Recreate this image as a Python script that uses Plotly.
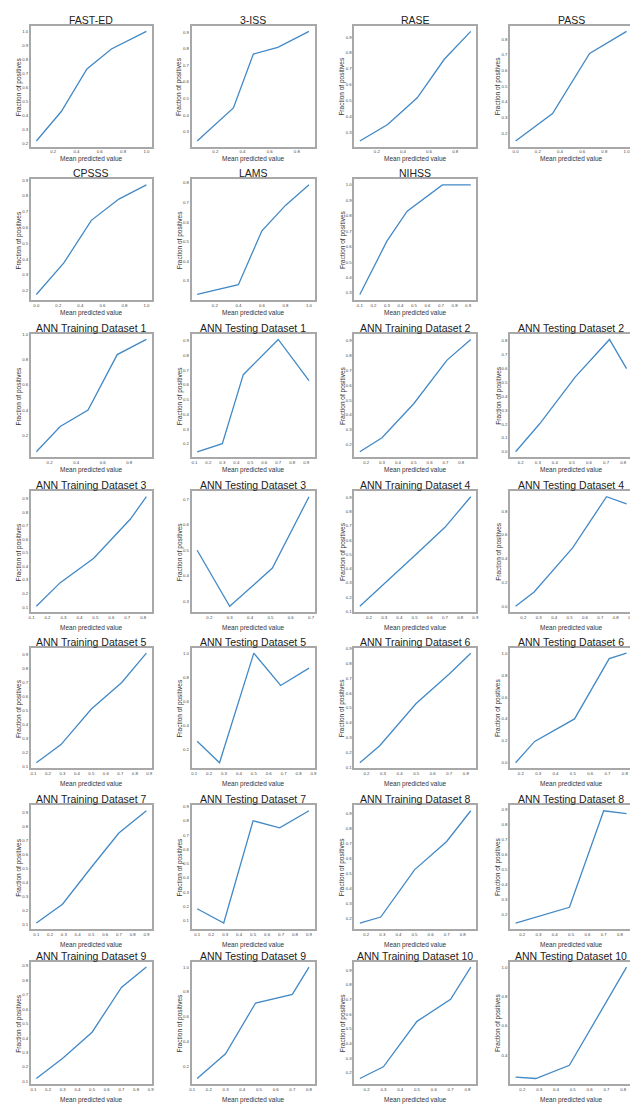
import plotly.graph_objects as go

# ---------------- data ----------------
TITLES = [
    "FAST-ED", "3-ISS", "RASE", "PASS",
    "CPSSS", "LAMS", "NIHSS",
    "ANN Training Dataset 1", "ANN Testing Dataset 1", "ANN Training Dataset 2", "ANN Testing Dataset 2",
    "ANN Training Dataset 3", "ANN Testing Dataset 3", "ANN Training Dataset 4", "ANN Testing Dataset 4",
    "ANN Training Dataset 5", "ANN Testing Dataset 5", "ANN Training Dataset 6", "ANN Testing Dataset 6",
    "ANN Training Dataset 7", "ANN Testing Dataset 7", "ANN Training Dataset 8", "ANN Testing Dataset 8",
    "ANN Training Dataset 9", "ANN Testing Dataset 9", "ANN Training Dataset 10", "ANN Testing Dataset 10",
]

fast_ed_x = [0.056, 0.27, 0.49, 0.70, 1.0]
fast_ed_y = [0.22, 0.43, 0.733, 0.875, 1.0]
iss3_x = [0.066, 0.333, 0.48, 0.66, 0.89]
iss3_y = [0.244, 0.443, 0.768, 0.808, 0.904]
rase_x = [0.07, 0.283, 0.51, 0.717, 0.92]
rase_y = [0.243, 0.347, 0.516, 0.76, 0.936]
pass_x = [0.0, 0.333, 0.667, 1.0]
pass_y = [0.151, 0.326, 0.71, 0.85]
cpsss_x = [0.0, 0.25, 0.5, 0.75, 1.0]
cpsss_y = [0.175, 0.375, 0.645, 0.78, 0.87]
lams_x = [0.05, 0.4, 0.6, 0.8, 1.0]
lams_y = [0.23, 0.28, 0.555, 0.685, 0.79]
nihss_x = [0.1, 0.3, 0.45, 0.71, 0.92]
nihss_y = [0.29, 0.635, 0.83, 1.0, 1.0]

tr1_x = [0.1, 0.28, 0.49, 0.71, 0.93]
tr1_y = [0.07, 0.27, 0.40, 0.84, 0.96]
te1_x = [0.12, 0.3, 0.45, 0.7, 0.92]
te1_y = [0.145, 0.20, 0.67, 0.91, 0.63]
tr2_x = [0.16, 0.3, 0.5, 0.71, 0.86]
tr2_y = [0.15, 0.245, 0.475, 0.77, 0.91]
te2_x = [0.17, 0.31, 0.52, 0.72, 0.82]
te2_y = [0.0, 0.2, 0.54, 0.81, 0.6]
tr3_x = [0.13, 0.28, 0.49, 0.72, 0.82]
tr3_y = [0.105, 0.28, 0.46, 0.75, 0.915]
te3_x = [0.14, 0.3, 0.51, 0.69]
te3_y = [0.5, 0.28, 0.43, 0.71]
tr4_x = [0.14, 0.29, 0.5, 0.7, 0.87]
tr4_y = [0.135, 0.28, 0.49, 0.69, 0.905]
te4_x = [0.15, 0.27, 0.52, 0.74, 0.87]
te4_y = [0.0, 0.12, 0.49, 0.92, 0.86]
tr5_x = [0.12, 0.29, 0.5, 0.71, 0.88]
tr5_y = [0.125, 0.255, 0.51, 0.70, 0.91]
te5_x = [0.12, 0.27, 0.5, 0.68, 0.87]
te5_y = [0.265, 0.085, 1.0, 0.73, 0.875]
tr6_x = [0.16, 0.28, 0.5, 0.7, 0.83]
tr6_y = [0.13, 0.245, 0.53, 0.73, 0.87]
te6_x = [0.17, 0.28, 0.51, 0.71, 0.81]
te6_y = [0.0, 0.195, 0.40, 0.95, 1.0]
tr7_x = [0.1, 0.29, 0.5, 0.7, 0.9]
tr7_y = [0.11, 0.245, 0.51, 0.755, 0.915]
te7_x = [0.1, 0.29, 0.5, 0.69, 0.9]
te7_y = [0.185, 0.085, 0.80, 0.75, 0.87]
tr8_x = [0.16, 0.29, 0.5, 0.7, 0.85]
tr8_y = [0.17, 0.21, 0.525, 0.715, 0.92]
te8_x = [0.16, 0.49, 0.7, 0.84]
te8_y = [0.145, 0.25, 0.895, 0.875]
tr9_x = [0.12, 0.3, 0.5, 0.7, 0.87]
tr9_y = [0.12, 0.26, 0.44, 0.75, 0.89]
te9_x = [0.13, 0.3, 0.48, 0.7, 0.8]
te9_y = [0.10, 0.30, 0.71, 0.78, 1.0]
tr10_x = [0.16, 0.3, 0.5, 0.7, 0.82]
tr10_y = [0.16, 0.24, 0.55, 0.70, 0.92]
te10_x = [0.16, 0.28, 0.48, 0.82]
te10_y = [0.25, 0.24, 0.33, 1.0]

SERIES = [
    (fast_ed_x, fast_ed_y), (iss3_x, iss3_y), (rase_x, rase_y), (pass_x, pass_y),
    (cpsss_x, cpsss_y), (lams_x, lams_y), (nihss_x, nihss_y),
    (tr1_x, tr1_y), (te1_x, te1_y), (tr2_x, tr2_y), (te2_x, te2_y),
    (tr3_x, tr3_y), (te3_x, te3_y), (tr4_x, tr4_y), (te4_x, te4_y),
    (tr5_x, tr5_y), (te5_x, te5_y), (tr6_x, tr6_y), (te6_x, te6_y),
    (tr7_x, tr7_y), (te7_x, te7_y), (tr8_x, tr8_y), (te8_x, te8_y),
    (tr9_x, tr9_y), (te9_x, te9_y), (tr10_x, tr10_y), (te10_x, te10_y),
]

X_DTICK = [0.2, 0.2, 0.2, 0.2, 0.2, 0.2, 0.1,
           0.2, 0.1, 0.1, 0.1, 0.1, 0.1, 0.1, 0.1, 0.1, 0.1, 0.1, 0.1,
           0.1, 0.1, 0.1, 0.1, 0.1, 0.1, 0.1, 0.1]
Y_DTICK = [0.1, 0.1, 0.1, 0.1, 0.1, 0.1, 0.1,
           0.2, 0.1, 0.1, 0.1, 0.1, 0.1, 0.1, 0.2, 0.1, 0.2, 0.1, 0.2,
           0.1, 0.1, 0.1, 0.1, 0.1, 0.2, 0.1, 0.2]

X_LABEL = "Mean predicted value"
Y_LABEL = "Fraction of positives"

# ---------------- layout ----------------
W, H = 638, 1105
COL_L = [21, 183, 347, 504]
COL_R = [143, 307, 470, 627]
ROW_T = [16, 170, 325, 483, 640, 798, 955]
ROW_B = [137, 291, 449, 604, 761, 922, 1078]
XLAB_OFF = [13, 13, 13, 16, 16, 16, 16]

slots = [(0, 0), (0, 1), (0, 2), (0, 3), (1, 0), (1, 1), (1, 2)] + \
        [(r, c) for r in range(2, 7) for c in range(4)]

FONT = "Liberation Sans, Arial, sans-serif"
LINE_COLOR = "#4289c6"

fig = go.Figure()
layout = dict(
    width=W, height=H, margin=dict(l=0, r=0, t=0, b=0),
    paper_bgcolor="white", plot_bgcolor="white", showlegend=False,
    font=dict(family=FONT, color="#333"),
)
annotations = []

for i, ((xs, ys), title) in enumerate(zip(SERIES, TITLES)):
    r, c = slots[i]
    n = i + 1
    l, rr, t, b = COL_L[c], COL_R[c], ROW_T[r], ROW_B[r]
    xname = "xaxis" if n == 1 else f"xaxis{n}"
    yname = "yaxis" if n == 1 else f"yaxis{n}"
    xref = "x" if n == 1 else f"x{n}"
    yref = "y" if n == 1 else f"y{n}"

    fig.add_trace(go.Scatter(x=xs, y=ys, mode="lines", xaxis=xref, yaxis=yref,
                             line=dict(color=LINE_COLOR, width=1.3), hoverinfo="skip"))

    xlo, xhi = min(xs), max(xs)
    ylo, yhi = min(ys), max(ys)
    xp, yp = 0.05 * (xhi - xlo), 0.05 * (yhi - ylo)

    common = dict(showgrid=False, zeroline=False, showline=True, mirror=True,
                  linecolor="#a8a8a8", linewidth=1.5, ticks="",
                  tickfont=dict(size=4.3, color="#444", family=FONT),
                  tickformat=".1f", tick0=0, fixedrange=True)
    layout[xname] = dict(common, domain=[l / W, rr / W], anchor=yref,
                         range=[xlo - xp, xhi + xp], dtick=X_DTICK[i])
    layout[yname] = dict(common, domain=[1 - b / H, 1 - t / H], anchor=xref,
                         range=[ylo - yp, yhi + yp], dtick=Y_DTICK[i])

    annotations.append(dict(text=title, xref="paper", yref="paper",
                            x=(l + rr) / 2 / W, y=1 - (t - 6) / H,
                            xanchor="center", yanchor="middle", showarrow=False,
                            font=dict(size=10.5, color="#222", family=FONT)))
    annotations.append(dict(text=X_LABEL, xref="paper", yref="paper",
                            x=(l + rr) / 2 / W, y=1 - (b + XLAB_OFF[r]) / H,
                            xanchor="center", yanchor="middle", showarrow=False,
                            font=dict(size=6.5, color="#333", family=FONT)))
    annotations.append(dict(text=Y_LABEL, xref="paper", yref="paper",
                            x=(l - 12) / W, y=1 - (t + b) / 2 / H, textangle=-90,
                            xanchor="center", yanchor="middle", showarrow=False,
                            font=dict(size=6.5, color="#333", family=FONT)))

layout["annotations"] = annotations
fig.update_layout(**layout)
fig.write_html("out.html")
